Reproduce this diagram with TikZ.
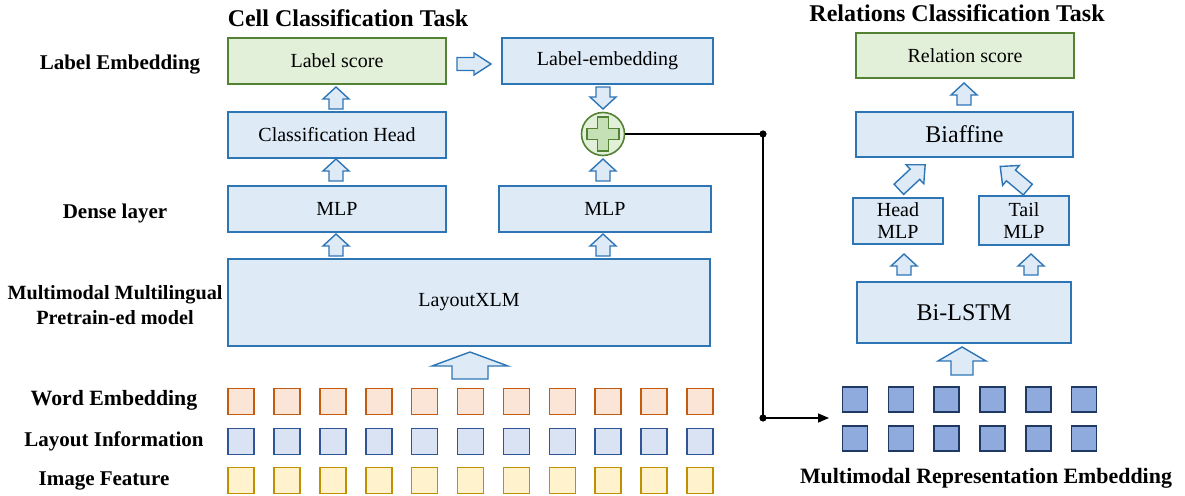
\documentclass[tikz,border=0pt]{standalone}
\usepackage{fontspec}
\setmainfont{Liberation Serif}
\usetikzlibrary{arrows.meta,calc}
\definecolor{bblue}{HTML}{2E75B6}
\definecolor{lblue}{HTML}{DEEBF7}
\definecolor{bgreen}{HTML}{548235}
\definecolor{lgreen}{HTML}{E2F0D9}
\definecolor{mgreen}{HTML}{C5E0B4}
\definecolor{borange}{HTML}{C55A11}
\definecolor{lorange}{HTML}{FBE5D6}
\definecolor{bnavy}{HTML}{2F5597}
\definecolor{lnavy}{HTML}{DAE3F3}
\definecolor{byellow}{HTML}{BF9000}
\definecolor{lyellow}{HTML}{FFF2CC}
\definecolor{bdark}{HTML}{203864}
\definecolor{ldark}{HTML}{8FAADC}
\tikzset{
  boxsty/.style={draw=bblue, fill=lblue, line width=1.6pt, inner sep=0pt, align=center, font=\fontsize{20}{22}\selectfont},
  greenbox/.style={boxsty, draw=bgreen, fill=lgreen},
  bigtxt/.style={font=\fontsize{24}{26}\selectfont},
  lbl/.style={font=\fontsize{21}{25}\selectfont\bfseries, align=center},
  ttl/.style={font=\fontsize{24}{26}\selectfont\bfseries},
  arrowsty/.style={draw=bblue, fill=lblue, line width=1.4pt, line join=miter},
  sqsty/.style={minimum size=26pt, inner sep=0pt, line width=1.6pt},
  wsq/.style={sqsty, draw=borange, fill=lorange},
  lsq/.style={sqsty, draw=bnavy, fill=lnavy},
  isq/.style={sqsty, draw=byellow, fill=lyellow},
  dsq/.style={sqsty, minimum size=25pt, draw=bdark, fill=ldark},
  conn/.style={line width=1.5pt, black},
  pics/barrow/.style args={#1/#2/#3/#4}{code={
    \draw[arrowsty] (-#2/2,#4/2) -- (-#2/2,-#4/2+#3) -- (-#1/2,-#4/2+#3) -- (0,-#4/2)
      -- (#1/2,-#4/2+#3) -- (#2/2,-#4/2+#3) -- (#2/2,#4/2) -- cycle;
  }}
}
\begin{document}
\begin{tikzpicture}[x=1pt,y=-1pt]
\useasboundingbox (0,0) rectangle (1185,495);

% titles and side labels
\node[ttl] (t1) at (348,18) {Cell Classification Task};
\node[ttl] (t2) at (957,13) {Relations Classification Task};
\node[lbl] (s1) at (120,65) {Label Embedding};
\node[lbl] (s2) at (115,213) {Dense layer};
\node[lbl, font=\fontsize{20.2}{25}\selectfont\bfseries] (s3) at (115,305) {Multimodal Multilingual\\Pretrain-ed model};
\node[lbl, font=\fontsize{21.8}{25}\selectfont\bfseries] (s4) at (114,400) {Word Embedding};
\node[lbl] (s5) at (114,441) {Layout Information};
\node[lbl] (s6) at (104,481) {Image Feature};
\node[lbl, font=\fontsize{21.9}{25}\selectfont\bfseries] (s7) at (986,478) {Multimodal Representation Embedding};

% left boxes
\node[greenbox, minimum width=218pt, minimum height=46pt] (lscore) at (337,61) {Label score};
\node[boxsty, minimum width=211pt, minimum height=46pt] (lemb) at (607.5,61) {Label-embedding};
\node[boxsty, minimum width=218pt, minimum height=46pt] (chead) at (337,135) {Classification Head};
\node[boxsty, minimum width=218pt, minimum height=46pt] (mlpa) at (337,209) {MLP};
\node[boxsty, minimum width=212pt, minimum height=46pt] (mlpb) at (605,209) {MLP};
\node[boxsty, minimum width=482pt, minimum height=87pt] (lxlm) at (469,302.5) {LayoutXLM};

% plus circle
\node[circle, draw=bgreen, fill=lgreen, line width=1.6pt, minimum size=43pt, inner sep=0pt] (plus) at (603,134) {};
\draw[draw=bgreen, fill=mgreen, line width=1.3pt]
  ($(plus.center)+(-5.5,-17)$) -- ($(plus.center)+(5.5,-17)$) -- ($(plus.center)+(5.5,-5.5)$)
  -- ($(plus.center)+(16,-5.5)$) -- ($(plus.center)+(16,5.5)$) -- ($(plus.center)+(5.5,5.5)$)
  -- ($(plus.center)+(5.5,17)$) -- ($(plus.center)+(-5.5,17)$) -- ($(plus.center)+(-5.5,5.5)$)
  -- ($(plus.center)+(-16,5.5)$) -- ($(plus.center)+(-16,-5.5)$) -- ($(plus.center)+(-5.5,-5.5)$) -- cycle;

% left block arrows
\pic at (336,98) {barrow=26/14/12/22};
\pic at (336,170) {barrow=26/14/12/22};
\pic at (336,245) {barrow=26/14/12/22};
\pic at (603,170) {barrow=26/14/12/22};
\pic at (603,245) {barrow=26/14/12/22};
\pic[rotate=180] at (603,98) {barrow=26/14/12/22};
\pic[rotate=-90] at (474,64) {barrow=22/13/17/34};
\pic at (470,365.5) {barrow=76/36/14/27};

% squares
\foreach \i in {0,...,10}{
  \node[wsq] (w\i) at ({241+45.9*\i},401.5) {};
  \node[lsq] (l\i) at ({241+45.9*\i},441.5) {};
  \node[isq] (m\i) at ({241+45.9*\i},480.5) {};
}

% right side
\node[greenbox, minimum width=218pt, minimum height=45pt] (rscore) at (965,55.5) {Relation score};
\node[boxsty, bigtxt, minimum width=217pt, minimum height=45pt] (biaff) at (964.5,134.5) {Biaffine};
\node[boxsty, minimum width=90pt, minimum height=46pt] (hmlp) at (898,221) {Head\\MLP};
\node[boxsty, minimum width=90pt, minimum height=49pt] (tmlp) at (1024,220.5) {Tail\\MLP};
\node[boxsty, bigtxt, minimum width=214pt, minimum height=61pt] (bilstm) at (964,312.5) {Bi-LSTM};

\pic at (964,94) {barrow=26/14/12/22};
\pic[rotate=-47] at (912,177) {barrow=26/14/14/36};
\pic[rotate=50] at (1014,178) {barrow=26/14/14/36};
\pic at (904,264.5) {barrow=26/14/12/21};
\pic at (1031,264.5) {barrow=26/14/12/21};
\pic at (962,361) {barrow=48/22/14/28};

\foreach \i in {0,...,5}{
  \node[dsq] (d\i) at ({855+45.8*\i},399.5) {};
  \node[dsq] (e\i) at ({855+45.8*\i},438.5) {};
}

% connector
\coordinate (j1) at (763,134);
\coordinate (j2) at (763,418);
\coordinate (jend) at (829,418);
\draw[conn] (plus.east) -- (j1) -- (j2);
\draw[conn, -{Triangle[length=11pt,width=9pt]}] (j2) -- (jend);
\fill (j1) circle (3.6pt);
\fill (j2) circle (3.6pt);
\end{tikzpicture}
\end{document}
